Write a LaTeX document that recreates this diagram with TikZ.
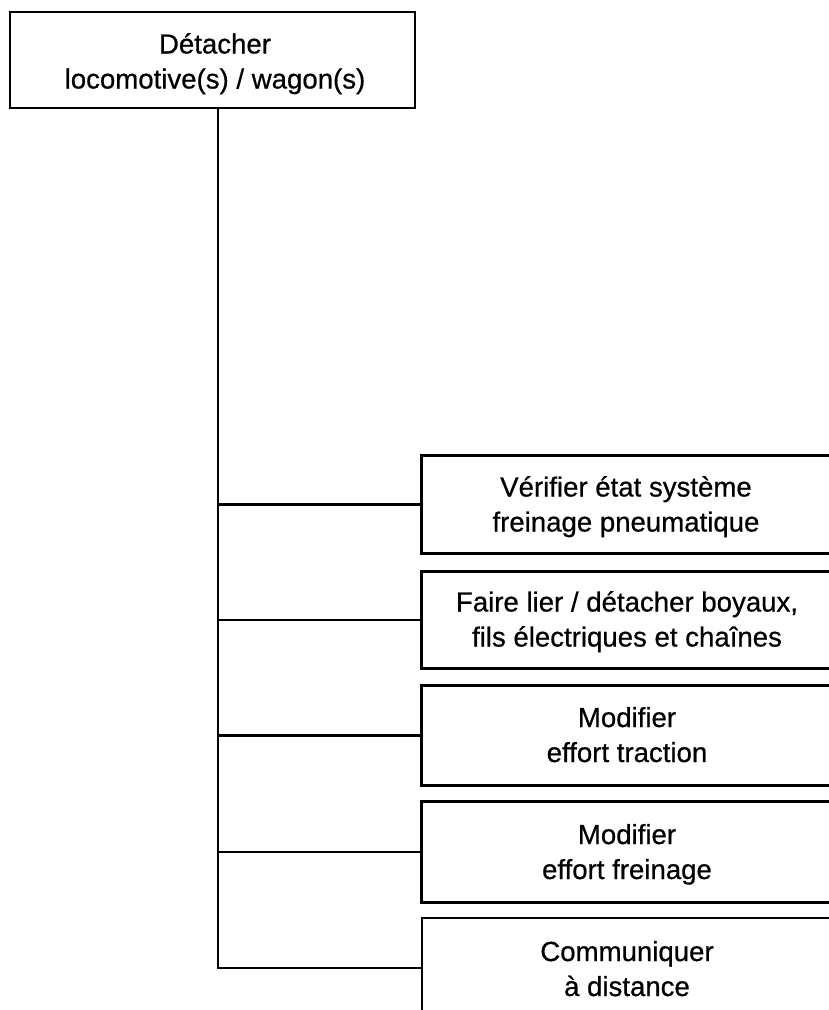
\documentclass[tikz,border=0pt]{standalone}
\usepackage{fontspec}
\setmainfont{Liberation Sans}[FakeBold=0.6]
\newcommand{\bigstrut}{\rule[-8pt]{0pt}{34pt}}
\begin{document}
\begin{tikzpicture}[x=1pt,y=-1pt,
  line/.style={line width=2.8pt, line cap=rect},
  txt/.style={font=\fontsize{27.6}{29.5}\selectfont, align=center, inner sep=0pt},
  rbox/.style={draw=none, minimum width=406pt, minimum height=#1, inner sep=0pt, anchor=center}]
\useasboundingbox (0,0) rectangle (828,1010);
\fill[white] (0,0) rectangle (828,1010);
% top box
\node[draw, line width=2.8pt, minimum width=405pt, minimum height=96pt, inner sep=0pt] (top) at (212.5,60) {};
\node[txt, font=\fontsize{27.6}{30.5}\selectfont] (toptxt) at (215,62) {\bigstrut Détacher\\\bigstrut locomotive(s) / wagon(s)};
% right boxes
\node[rbox=97pt] (b1) at (625,504.5) {};
\node[rbox=96pt] (b2) at (625,620) {};
\node[rbox=99pt] (b3) at (625,735.5) {};
\node[rbox=100pt] (b4) at (625,852) {};
\node[txt] (t1) at (626,505) {\bigstrut Vérifier état système\\\bigstrut freinage pneumatique};
\node[txt] (t2) at (627,620) {\bigstrut Faire lier / détacher boyaux,\\\bigstrut fils électriques et chaînes};
\node[txt] (t3) at (627,735.5) {\bigstrut Modifier\\\bigstrut effort traction};
\node[txt] (t4) at (627,852.5) {\bigstrut Modifier\\\bigstrut effort freinage};
\node[txt] (t5) at (627,969.5) {\bigstrut Communiquer\\\bigstrut à distance};
\foreach \b in {b1,b2,b3,b4}
  \draw[line] (\b.north east) -- (\b.north west) -- (\b.south west) -- (\b.south east);
\coordinate (b5ne) at (830,918);
\coordinate (b5nw) at (422,918);
\coordinate (b5sw) at (422,1012);
\coordinate (c5) at (422,968);
\draw[line] (b5ne) -- (b5nw) -- (b5sw);
% trunk
\coordinate (trunk) at (218,0);
\draw[line] (top.south -| trunk) -- (trunk |- c5) -- (c5);
\foreach \b in {b1,b2,b3,b4}
  \draw[line] (trunk |- \b.west) -- (\b.west);
\end{tikzpicture}
\end{document}
